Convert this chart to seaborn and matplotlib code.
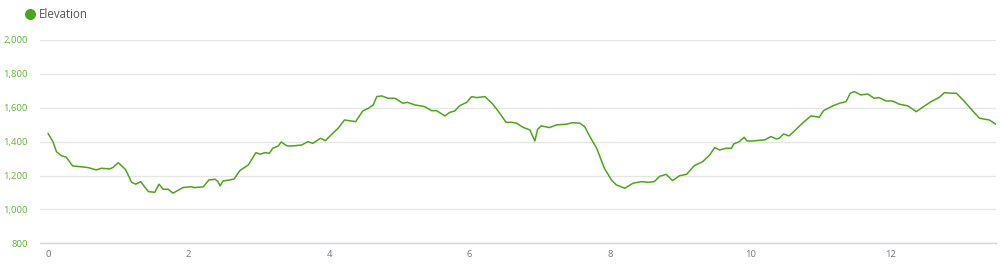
import matplotlib
matplotlib.use("Agg")
import matplotlib.pyplot as plt
import seaborn as sns
import pandas as pd
from matplotlib.ticker import FuncFormatter, FixedLocator

# ---- data ----
distance_km = [
    0.00, 0.07, 0.12, 0.19, 0.26, 0.35, 0.46, 0.57, 0.69, 0.76, 0.88, 0.93,
    1.00, 1.10, 1.13, 1.19, 1.25, 1.32, 1.38, 1.43, 1.52, 1.58, 1.64, 1.71,
    1.78, 1.92, 2.04, 2.08, 2.21, 2.29, 2.38, 2.42, 2.45, 2.49, 2.59, 2.65,
    2.73, 2.85, 2.96, 3.02, 3.09, 3.15, 3.20, 3.28, 3.32, 3.40, 3.49, 3.61,
    3.70, 3.77, 3.82, 3.88, 3.95, 4.03, 4.13, 4.22, 4.38, 4.48, 4.56, 4.63,
    4.68, 4.75, 4.84, 4.94, 5.05, 5.12, 5.22, 5.36, 5.46, 5.53, 5.65, 5.72,
    5.79, 5.86, 5.96, 6.03, 6.10, 6.22, 6.33, 6.43, 6.52, 6.60, 6.67, 6.76,
    6.86, 6.93, 6.97, 7.02, 7.14, 7.24, 7.38, 7.47, 7.57, 7.64, 7.72, 7.81,
    7.92, 8.02, 8.09, 8.21, 8.33, 8.45, 8.54, 8.63, 8.71, 8.80, 8.89, 8.99,
    9.09, 9.20, 9.32, 9.42, 9.49, 9.56, 9.65, 9.73, 9.76, 9.84, 9.91, 9.95,
    10.03, 10.13, 10.20, 10.29, 10.37, 10.41, 10.47, 10.55, 10.63, 10.74, 10.86, 10.98,
    11.04, 11.17, 11.27, 11.36, 11.42, 11.48, 11.57, 11.67, 11.76, 11.83, 11.93, 12.02,
    12.12, 12.24, 12.36, 12.45, 12.57, 12.69, 12.76, 12.86, 12.93, 13.04, 13.16, 13.26,
    13.40, 13.49,
]
elevation_m = [
    1449, 1400, 1341, 1317, 1308, 1257, 1252, 1247, 1233, 1243, 1239, 1249,
    1276, 1237, 1213, 1160, 1149, 1164, 1131, 1105, 1101, 1149, 1119, 1119,
    1096, 1129, 1134, 1129, 1133, 1174, 1178, 1164, 1139, 1168, 1174, 1180,
    1229, 1262, 1335, 1326, 1335, 1331, 1361, 1375, 1398, 1375, 1375, 1380,
    1400, 1390, 1404, 1420, 1406, 1440, 1479, 1528, 1518, 1581, 1597, 1617,
    1666, 1670, 1656, 1656, 1627, 1632, 1617, 1607, 1583, 1583, 1552, 1573,
    1581, 1612, 1632, 1666, 1660, 1666, 1622, 1568, 1514, 1514, 1509, 1485,
    1469, 1404, 1473, 1493, 1483, 1499, 1503, 1512, 1509, 1488, 1425, 1361,
    1243, 1174, 1145, 1125, 1155, 1164, 1160, 1164, 1196, 1207, 1170, 1199,
    1207, 1258, 1282, 1322, 1365, 1351, 1361, 1361, 1386, 1400, 1426, 1404,
    1404, 1408, 1410, 1430, 1416, 1420, 1445, 1434, 1465, 1509, 1552, 1544,
    1583, 1611, 1627, 1636, 1686, 1695, 1676, 1681, 1656, 1660, 1640, 1640,
    1621, 1611, 1577, 1603, 1636, 1662, 1689, 1686, 1686, 1640, 1583, 1538,
    1528, 1503,
]
y_ticks = [800, 1000, 1200, 1400, 1600, 1800, 2000]
x_ticks = [0, 2, 4, 6, 8, 10, 12]
series_name = "Elevation"

df = pd.DataFrame({"Distance": distance_km, "Elevation": elevation_m})

sns.set_theme(style="white")
plt.rcParams["font.family"] = ["Open Sans", "DejaVu Sans"]

LINE = "#4ba619"
fig = plt.figure(figsize=(10, 2.75), dpi=100)
ax = fig.add_axes([0.040, 1 - 243.3 / 275, 0.956, (243.3 - 40) / 275])

sns.lineplot(data=df, x="Distance", y="Elevation", ax=ax, color=LINE,
             linewidth=1.1, legend=False)

ax.set_xlim((40 - 48) / 70.25, (996 - 48) / 70.25)
ax.set_ylim(800, 2000)
ax.yaxis.set_major_locator(FixedLocator(y_ticks))
ax.xaxis.set_major_locator(FixedLocator(x_ticks))
ax.yaxis.set_major_formatter(FuncFormatter(lambda v, p: f"{int(v):,}"))
ax.grid(axis="y", color="#e6e6e6", linewidth=1)
ax.grid(axis="x", visible=False)
for s in ["top", "right", "left"]:
    ax.spines[s].set_visible(False)
ax.spines["bottom"].set_color("#ccd6eb")
ax.spines["bottom"].set_linewidth(1)
ax.set_xlabel("")
ax.set_ylabel("")
ax.tick_params(axis="y", length=0, pad=9, labelsize=6.8, labelcolor="#5cb82e")
ax.tick_params(axis="x", length=0, pad=5, labelsize=6.8, labelcolor="#777777")

# legend (top-left)
ax.scatter([0.030], [1 - 13.5 / 275], s=48, color=LINE, transform=fig.transFigure,
           clip_on=False, zorder=5)
fig.text(0.0385, 1 - 14 / 275, series_name, color="#555555", fontsize=8.3,
         ha="left", va="center")

fig.savefig("out.png", dpi=100, facecolor="white")
